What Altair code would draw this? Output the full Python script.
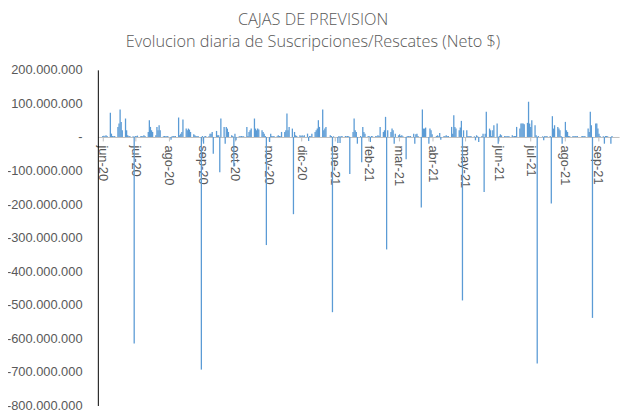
import altair as alt
import pandas as pd

TITLE = "CAJAS DE PREVISION"
SUBTITLE = "Evolucion diaria de Suscripciones/Rescates (Neto $)"

# Daily net values (millions of $), one per business day of each month
jun20 = [3, 4, 2, 5, 3, 72, 10, 3, 2, 3, 30, 40, 82, 45, 20, 55, 20, 5, 2, 3, 2, -615]
jul20 = [3, 2, 4, 2, 3, 2, 5, 3, 15, 50, 30, 20, 15, 5, 30, 20, 35, 20, 2, 3, 2, 2, 3]
aug20 = [-8, 2, 3, 2, 3, 58, 5, 10, 15, 52, 25, 20, 25, 22, 15, 8, 5, 3, 2, 3, -693]
sep20 = [3, -20, 2, 3, 2, 10, 10, 15, -50, 18, 5, 5, -105, 55, 30, -20, 30, 25, 15, 5, 3, -88]
oct20 = [10, -10, 2, 2, 3, 2, 2, 30, 3, 15, 20, 25, 55, 25, 20, 25, 22, 20, 15, 10, 3, -322]
nov20 = [-15, 10, 3, 2, 3, 2, 5, 3, 2, 15, 15, 20, 70, 20, 30, 25, -230, 15, 5, 3, 5]
dec20 = [3, 5, 2, 5, 10, -12, 3, 2, 10, 15, 20, 25, 50, 30, 82, 20, 25, 30, 0, 5, 3, -522, 2]
jan21 = [0, -18, 3, -18, 3, 2, 3, 2, 3, 2, -110, 15, 55, 20, 15, -20, 3, -75, 30, 15, 10]
feb21 = [3, 2, -15, 3, 2, 3, 2, 5, 3, 30, 15, 20, 60, -335, 20, 15, 25, 20, -20, 10]
mar21 = [5, 8, 3, 5, 2, -66, 2, 3, 2, 3, 10, -20, 8, 10, 3, -210, 82, 25, 25, 28, -20, 25, 20]
apr21 = [8, 0, 3, 5, 2, 12, -8, 3, 2, 5, 2, 3, 30, 10, 65, 30, 25, 20, 28, 48, -487, 20]
may21 = [20, 3, 2, 3, 2, 2, -10, 5, 2, -15, 3, 10, -164, 10, 75, 25, 20, 3, 20, 35, 40]
jun21 = [-20, 3, 8, 5, 3, 2, 2, 3, 2, 5, 2, 3, 3, 30, 25, 40, 40, 40, 38, 42, 105, 40]
jul21 = [30, 50, 35, 5, -675, 3, 0, 2, -10, 3, 2, 3, 3, -198, 62, 25, 35, 30, 25, 20, 3, -20]
aug21 = [45, 20, 15, 3, 2, 3, 2, 3, 2, 3, 0, 2, 3, 2, 3, 25, 15, 75, 35, -539, 40, 40]
sep21 = [25, 10, 3, 2, -20, 3, 3, 2, -20, 3]

month_keys = ["2020-06", "2020-07", "2020-08", "2020-09", "2020-10", "2020-11",
              "2020-12", "2021-01", "2021-02", "2021-03", "2021-04", "2021-05",
              "2021-06", "2021-07", "2021-08", "2021-09"]
values_by_month = [jun20, jul20, aug20, sep20, oct20, nov20, dec20, jan21,
                   feb21, mar21, apr21, may21, jun21, jul21, aug21, sep21]
last_day = {"2021-09": "2021-09-14"}

rows = []
for key, vals in zip(month_keys, values_by_month):
    start = pd.Timestamp(key + "-01")
    end = pd.Timestamp(last_day[key]) if key in last_day else start + pd.offsets.MonthEnd(0)
    days = pd.bdate_range(start, end)
    if len(days) != len(vals):
        raise ValueError(f"{key}: {len(days)} days vs {len(vals)} values")
    for d, v in zip(days, vals):
        rows.append({"fecha": d.strftime("%Y-%m-%dT00:00:00"), "neto": v * 1_000_000})

df = pd.DataFrame(rows)

month_ticks = [alt.DateTime(year=int(k[:4]), month=int(k[5:]), date=1) for k in month_keys]
y_ticks = [v * 100_000_000 for v in range(-8, 3)]

H = 340
W = 528
zero_from_top = H * 200 / 1000

x_label_expr = ("['ene','feb','mar','abr','may','jun','jul','ago','sep','oct','nov','dic']"
                "[month(datum.value)] + '-' + timeFormat(datum.value, '%y')")
y_label_expr = ("datum.value == 0 ? '-\u00a0\u00a0\u00a0' : "
                "replace(replace(format(datum.value, ','), /,/g, '.'), '\u2212', '-')")

chart = alt.Chart(df).mark_bar(color="#5B9BD5", size=1.3).encode(
    x=alt.X(
        "fecha:T",
        scale=alt.Scale(
            domain=[alt.DateTime(year=2020, month=6, date=1),
                    alt.DateTime(year=2021, month=9, date=16)],
            nice=False,
        ),
        axis=alt.Axis(
            title=None,
            values=month_ticks,
            labelExpr=x_label_expr,
            labelAngle=90,
            labelAlign="left",
            labelBaseline="middle",
            labelPadding=4,
            labelFlush=False,
            labelOverlap=False,
            labelFont="Liberation Sans",
            labelFontSize=13,
            labelColor="#595959",
            tickSize=4,
            tickColor="#BFBFBF",
            domainColor="#BFBFBF",
            grid=False,
            offset=-(H - zero_from_top),
        ),
    ),
    y=alt.Y(
        "neto:Q",
        scale=alt.Scale(domain=[-800_000_000, 200_000_000], nice=False, zero=False),
        axis=alt.Axis(
            title=None,
            values=y_ticks,
            labelExpr=y_label_expr,
            labelFont="Liberation Sans",
            labelFontSize=13,
            labelColor="#595959",
            labelPadding=16,
            ticks=False,
            domainColor="#000000",
            grid=False,
        ),
    ),
).properties(
    width=W,
    height=H,
    autosize="none",
    padding={"left": 91, "top": 60, "right": 6, "bottom": 10},
    title=alt.TitleParams(
        text=TITLE,
        subtitle=SUBTITLE,
        font="Open Sans",
        fontSize=16.5,
        fontWeight=300,
        color="#595959",
        subtitleFont="Open Sans",
        subtitleFontSize=16.5,
        subtitleFontWeight=300,
        subtitleColor="#595959",
        subtitlePadding=5,
        anchor="middle",
        dx=-46,
        offset=14,
    ),
).configure_view(stroke=None)

chart.save("out.html", embed_options={"renderer": "svg", "actions": False})
